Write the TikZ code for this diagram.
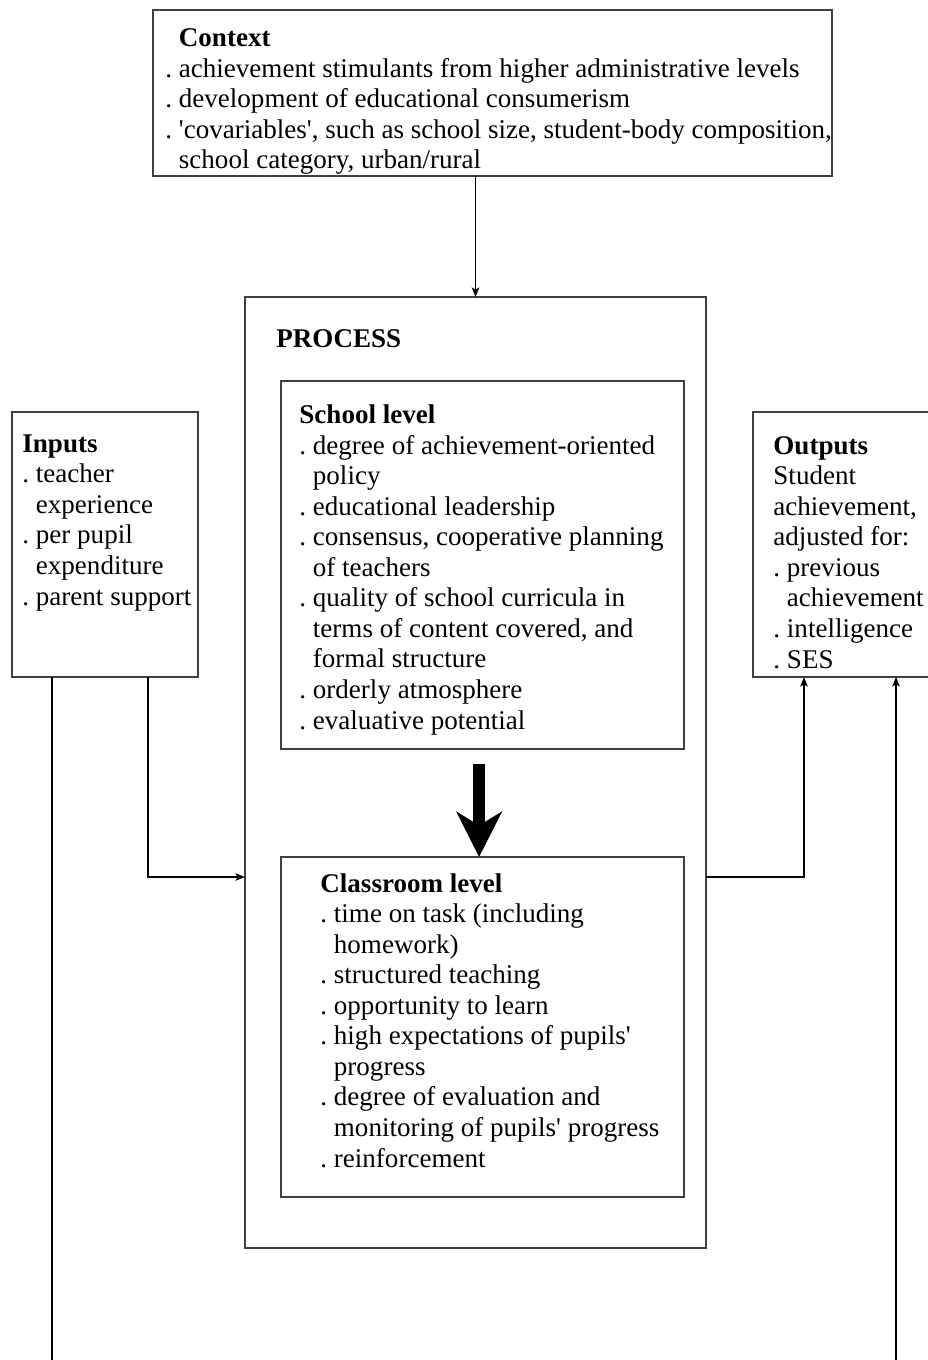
\documentclass[tikz,border=0pt]{standalone}
\usepackage{fontspec}
\setmainfont{Liberation Serif}
\usepackage{tikz}
\usetikzlibrary{arrows.meta, positioning}
\newcommand\pxl{0.444pt}
\newcommand\cont{\phantom{.}\ }
\frenchspacing

\begin{document}
\begin{tikzpicture}[
    x=0.444pt, y=-0.444pt,
    box/.style={draw=black!75, line width=0.5pt, anchor=north west, inner sep=0pt, outer sep=0pt},
    txt/.style={anchor=base west, align=left, inner sep=0pt, font=\fontsize{12}{13.55}\selectfont},
    link/.style={line width=0.7pt, -{Stealth[length=4.2pt, width=3.3pt, inset=0.9pt]}},
    wire/.style={line width=0.7pt},
    bigarrow/.style={line width=5.3pt, -{Stealth[length=20pt, width=20pt, inset=6pt]}}
]
    \useasboundingbox (0,0) rectangle (927,1360);

    % boxes
    \node[box, minimum width=679*\pxl, minimum height=166*\pxl] (context) at (153,10) {};
    \node[box, minimum width=461*\pxl, minimum height=951*\pxl] (process) at (245,297) {};
    \node[box, minimum width=403*\pxl, minimum height=368*\pxl] (school) at (281,381) {};
    \node[box, minimum width=403*\pxl, minimum height=340*\pxl] (classroom) at (281,857) {};
    \node[box, minimum width=186*\pxl, minimum height=265*\pxl] (inputs) at (12,412) {};
    \node[box, minimum width=220*\pxl, minimum height=265*\pxl] (outputs) at (753,412) {};

    % texts (placed by the baseline of their last line)
    \node[txt] (contexttext) at (165,169) {\cont\textbf{Context}\\
        . achievement stimulants from higher administrative levels\\
        . development of educational consumerism\\
        . \textquotesingle covariables\textquotesingle, such as school size, student-body composition,\\
        \cont school category, urban/rural};
    \node[txt] (processtext) at (276,348) {\textbf{PROCESS}};
    \node[txt] (schooltext) at (299,729) {\textbf{School level}\\
        . degree of achievement-oriented\\
        \cont policy\\
        . educational leadership\\
        . consensus, cooperative planning\\
        \cont of teachers\\
        . quality of school curricula in\\
        \cont terms of content covered, and\\
        \cont formal structure\\
        . orderly atmosphere\\
        . evaluative potential};
    \node[txt] (classroomtext) at (320,1167) {\textbf{Classroom level}\\
        . time on task (including\\
        \cont homework)\\
        . structured teaching\\
        . opportunity to learn\\
        . high expectations of pupils\textquotesingle\\
        \cont progress\\
        . degree of evaluation and\\
        \cont monitoring of pupils\textquotesingle\ progress\\
        . reinforcement};
    \node[txt] (inputstext) at (22,605) {\textbf{Inputs}\\
        . teacher\\
        \cont experience\\
        . per pupil\\
        \cont expenditure\\
        . parent support};
    \node[txt] (outputstext) at (773,668) {\textbf{Outputs}\\
        Student\\
        achievement,\\
        adjusted for:\\
        . previous\\
        \cont achievement\\
        . intelligence\\
        . SES};

    % connectors
    \coordinate (leftend) at (52,1360);
    \coordinate (rightend) at (896,1360);
    \coordinate (inrow) at (148,877);
    \coordinate (outrow) at (804,877);

    \draw[link] (context.south -| process.north) -- (process.north);
    \draw[bigarrow] ([xshift=-1.5pt, yshift=-15*\pxl]school.south) -- ([xshift=-1.5pt]classroom.north);
    \draw[wire] (inputs.south -| leftend) -- (leftend);
    \draw[link] (inputs.south -| inrow) |- (process.west |- inrow);
    \draw[link] (process.east |- outrow) -| (outputs.south -| outrow);
    \draw[link] (rightend) -- (outputs.south -| rightend);
\end{tikzpicture}
\end{document}
